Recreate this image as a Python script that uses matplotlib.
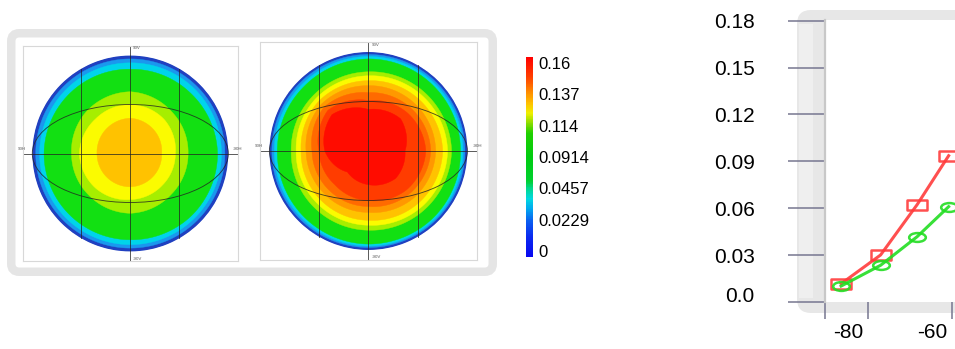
import numpy as np
import matplotlib
matplotlib.use("Agg")
import matplotlib.pyplot as plt
from matplotlib.path import Path
from matplotlib.patches import PathPatch, FancyBboxPatch, Ellipse, Rectangle
from matplotlib.colors import LinearSegmentedColormap, Normalize
from matplotlib.transforms import IdentityTransform, ScaledTranslation
from matplotlib.cm import ScalarMappable

plt.rcParams['font.family'] = ['Liberation Sans', 'DejaVu Sans']

W, H = 955, 349

# ---------------- data ----------------
# directions of the sampled zone boundaries: E, NE, N, NW, W, SW, S, SE
direction_deg = [0, 45, 90, 135, 180, 225, 270, 315]

# left disc: outer radius (fraction of disc radius) of each colour zone per direction
left_blue_r   = [1.0, 1.0, 1.0, 1.0, 1.0, 1.0, 1.0, 1.0]
left_sky_r    = [0.965, 0.965, 0.965, 0.965, 0.965, 0.965, 0.965, 0.965]
left_cyan_r   = [0.93, 0.93, 0.925, 0.925, 0.925, 0.93, 0.93, 0.93]
left_green_r  = [0.89, 0.87, 0.86, 0.87, 0.88, 0.88, 0.88, 0.89]
left_lime_r   = [0.59, 0.60, 0.63, 0.62, 0.60, 0.60, 0.61, 0.59]
left_yellow_r = [0.46, 0.49, 0.50, 0.50, 0.52, 0.50, 0.47, 0.46]
left_gold_r   = [0.32, 0.34, 0.36, 0.35, 0.34, 0.34, 0.34, 0.33]

# right disc
right_blue_r       = [1.0, 1.0, 1.0, 1.0, 1.0, 1.0, 1.0, 1.0]
right_sky_r        = [0.975, 0.975, 0.975, 0.975, 0.975, 0.975, 0.975, 0.975]
right_cyan_r       = [0.955, 0.955, 0.955, 0.95, 0.95, 0.955, 0.96, 0.96]
right_green_r      = [0.93, 0.93, 0.93, 0.92, 0.92, 0.93, 0.94, 0.94]
right_lime_r       = [0.84, 0.82, 0.80, 0.79, 0.78, 0.79, 0.80, 0.82]
right_yellow_r     = [0.80, 0.78, 0.76, 0.75, 0.73, 0.74, 0.75, 0.78]
right_gold_r       = [0.75, 0.73, 0.71, 0.71, 0.68, 0.69, 0.70, 0.73]
right_orange_r     = [0.68, 0.67, 0.66, 0.67, 0.63, 0.62, 0.62, 0.66]
right_darkorange_r = [0.63, 0.61, 0.59, 0.63, 0.57, 0.56, 0.56, 0.60]
right_redorange_r  = [0.58, 0.55, 0.51, 0.58, 0.50, 0.48, 0.50, 0.55]
right_red_r        = [0.37, 0.46, 0.42, 0.52, 0.44, 0.30, 0.34, 0.39]

disc_labels = ['90V', '-90V', '90H', '-90H']

# colour bar
cbar_labels = ['0', '0.0229', '0.0457', '0.0914', '0.114', '0.137', '0.16']

# line chart
angle_x = [-86.4, -77.0, -68.3, -60.8]
red_y = [0.0117, 0.0301, 0.0623, 0.0936]
green_y = [0.0102, 0.0235, 0.0418, 0.0610]
y_ticks = [0.0, 0.03, 0.06, 0.09, 0.12, 0.15, 0.18]
y_tick_labels = ['0.0', '0.03', '0.06', '0.09', '0.12', '0.15', '0.18']
x_ticks = [-80, -60]
x_tick_labels = ['-80', '-60']

# ---------------- styles ----------------
zone_color = {
    'blue': '#2040c0', 'sky': '#1a98ee', 'cyan': '#00d4ea', 'green': '#12e012',
    'lime': '#a6ee00', 'yellow': '#fbfb00', 'gold': '#ffc200', 'orange': '#ff9800',
    'darkorange': '#ff6a00', 'redorange': '#ff3c00', 'red': '#ff0c00',
}

fig = plt.figure(figsize=(W / 100, H / 100), dpi=100)
fig.patch.set_facecolor('white')


def px_rect(x0, y0_img, x1, y1_img):
    return [x0 / W, 1 - y1_img / H, (x1 - x0) / W, (y1_img - y0_img) / H]


# rounded grey container for the two discs
fig.add_artist(FancyBboxPatch((11.25, H - 271.75), 481.5, 238.5,
                              boxstyle='round,pad=0,rounding_size=8',
                              transform=IdentityTransform(), fc='white',
                              ec='#e5e5e5', lw=6.1, zorder=-5))


def draw_disc(cx, cy, r, zones):
    half = 1.1 * r
    pax = fig.add_axes(px_rect(cx - r, cy - r, cx + r, cy + r), projection='polar')
    pax.set_axis_off()
    theta = np.deg2rad(direction_deg + [360])
    for radii, name in zones:
        rr = list(radii) + [radii[0]]
        path = Path(np.column_stack([theta, rr])).interpolated(30)
        pax.add_patch(PathPatch(path, facecolor=zone_color[name],
                                edgecolor=zone_color[name], lw=0.3))
    pax.set_ylim(0, 1)

    # square frame / graticule overlay (in units of disc radius)
    oax = fig.add_axes(px_rect(cx - half, cy - half, cx + half, cy + half))
    oax.set_facecolor('none')
    oax.set_xlim(-1.1, 1.1)
    oax.set_ylim(-1.1, 1.1)
    oax.set_xticks([])
    oax.set_yticks([])
    for s in oax.spines.values():
        s.set_color('#d8d8d8')
        s.set_linewidth(0.8)
    gl = dict(color='#222222', lw=0.65, alpha=0.8)
    oax.axhline(0, **gl)
    oax.axvline(0, **gl)
    for gx in (-0.5, 0.5):
        oax.plot([gx, gx], [-np.sqrt(0.75), np.sqrt(0.75)], **gl)
    oax.add_patch(Ellipse((0, 0), 2, 1, fill=False, ec='#222222', lw=0.65, alpha=0.8))
    tk = dict(fontsize=3.2, color='#555555')
    oax.text(0.03, 1.075, disc_labels[0], ha='left', va='center', **tk)
    oax.text(0.03, -1.075, disc_labels[1], ha='left', va='center', **tk)
    oax.text(-1.15, 0.05, disc_labels[2], ha='left', va='center', clip_on=False, **tk)
    oax.text(1.05, 0.05, disc_labels[3], ha='left', va='center', clip_on=False, **tk)


draw_disc(130.3, 153.5, 98, [
    (left_blue_r, 'blue'), (left_sky_r, 'sky'), (left_cyan_r, 'cyan'),
    (left_green_r, 'green'), (left_lime_r, 'lime'), (left_yellow_r, 'yellow'),
    (left_gold_r, 'gold')])

draw_disc(368.4, 151, 99, [
    (right_blue_r, 'blue'), (right_sky_r, 'sky'), (right_cyan_r, 'cyan'),
    (right_green_r, 'green'), (right_lime_r, 'lime'), (right_yellow_r, 'yellow'),
    (right_gold_r, 'gold'), (right_orange_r, 'orange'),
    (right_darkorange_r, 'darkorange'), (right_redorange_r, 'redorange'),
    (right_red_r, 'red')])

# ---------------- colour bar ----------------
bar_cmap = LinearSegmentedColormap.from_list('bar', [
    (0.00, '#0808f0'), (0.10, '#0a2af0'), (0.18, '#0a60f0'), (0.24, '#00a8f0'),
    (0.29, '#00d8e0'), (0.34, '#00d890'), (0.38, '#00d030'), (0.50, '#00cc10'),
    (0.62, '#20d000'), (0.68, '#a0e000'), (0.72, '#f0f000'), (0.77, '#ffc000'),
    (0.83, '#ff8800'), (0.90, '#ff4000'), (1.00, '#ff0000')])
cax = fig.add_axes(px_rect(526, 57, 533, 257))
sm = ScalarMappable(norm=Normalize(-0.19, len(cbar_labels) - 1 + 0.19), cmap=bar_cmap)
cb = fig.colorbar(sm, cax=cax, ticks=list(range(len(cbar_labels))))
cb.set_ticklabels(cbar_labels)
cb.outline.set_visible(False)
cax.tick_params(length=0, pad=4, labelsize=12)

# ---------------- line chart ----------------
fig.add_artist(FancyBboxPatch((797, H - 313), 503, 303,
                              boxstyle='round,pad=0,rounding_size=14',
                              transform=IdentityTransform(), fc='#e7e7e7',
                              ec='none', zorder=-5))
fig.add_artist(Rectangle((799, H - 298), 14, 274, transform=IdentityTransform(),
                         fc='#efefef', ec='none', zorder=-4))

ax = fig.add_axes(px_rect(825, 20, 1300, 302))
ax.set_facecolor('white')
px_per_unit = 4.2
x_left = -80 - (868 - 825) / px_per_unit
ax.set_xlim(x_left, x_left + 475 / px_per_unit)
ax.set_ylim(0, 282 / 1562.8)
for name, s in ax.spines.items():
    if name == 'left':
        s.set_color('#c8c8c8')
        s.set_linewidth(1.6)
    else:
        s.set_visible(False)

ax.set_yticks(y_ticks)
ax.set_yticklabels(y_tick_labels)
ax.set_xticks(x_ticks)
ax.set_xticklabels(x_tick_labels)
ax.set_xticks([x_left], minor=True)
tick_col = '#767690'
ax.tick_params(axis='y', direction='out', length=26.6, width=1.1, color=tick_col,
               pad=24, labelsize=15)
ax.tick_params(axis='x', which='both', direction='out', length=12.2, width=1.1,
               color=tick_col, pad=3, labelsize=15)

# tick-label offsets as in the reference layout
x_shift = ScaledTranslation(-0.195, 0, fig.dpi_scale_trans)
for lbl in ax.get_xticklabels():
    lbl.set_transform(lbl.get_transform() + x_shift)
y0_lbl = ax.get_yticklabels()[0]
y0_lbl.set_transform(y0_lbl.get_transform() + ScaledTranslation(0, 0.07, fig.dpi_scale_trans))

rect_marker = Path([(-1, -0.45), (1, -0.45), (1, 0.45), (-1, 0.45), (-1, -0.45)],
                   [Path.MOVETO, Path.LINETO, Path.LINETO, Path.LINETO, Path.CLOSEPOLY])
uc = Path.unit_circle()
oval_marker = Path(uc.vertices * np.array([1.0, 0.53]), uc.codes)

ax.plot(angle_x, red_y, color='#ff3c3c', lw=2.2, marker=rect_marker, ms=14.5,
        mfc='none', mec='#ff3c3c', mew=1.8, alpha=0.9, zorder=3)
ax.plot(angle_x, green_y, color='#22dd22', lw=2.2, marker=oval_marker, ms=12,
        mfc='none', mec='#22dd22', mew=1.8, alpha=0.9, zorder=4)

fig.savefig('out.png', dpi=100)
